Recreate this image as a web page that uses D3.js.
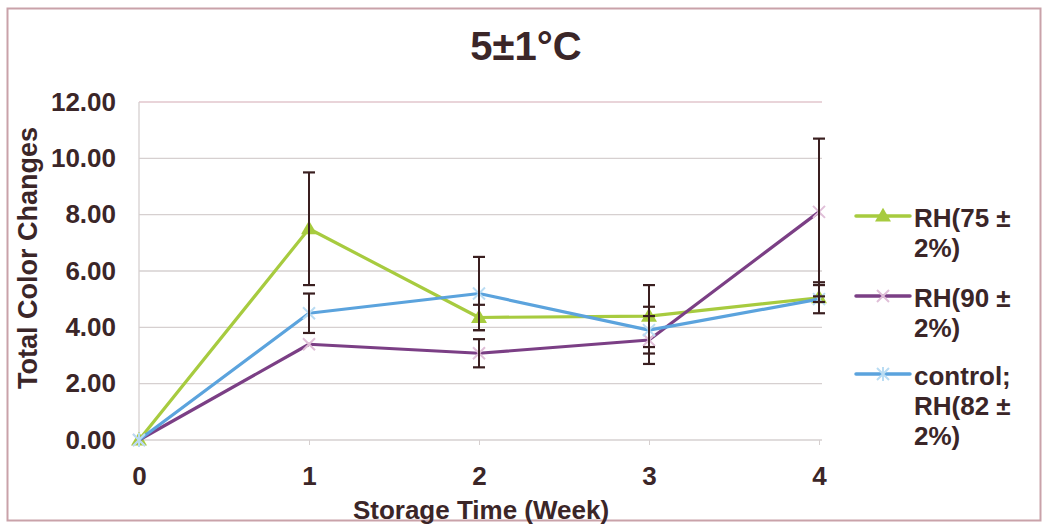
<!DOCTYPE html>
<html>
<head>
<meta charset="utf-8">
<script src="https://cdn.jsdelivr.net/npm/d3@7/dist/d3.min.js"></script>
<style>
  html, body { margin: 0; padding: 0; background: #fff; }
  svg { display: block; font-family: "Liberation Sans", Arial, sans-serif; }
</style>
</head>
<body>
<svg id="chart" width="1049" height="527"></svg>
<script>
// Storage weeks and tick labels
const weeks = [0, 1, 2, 3, 4];
const yTicks = [0, 2, 4, 6, 8, 10, 12];

// Total colour change per week for each storage condition
const rh75 = [0, 7.5, 4.35, 4.4, 5.05];
const rh90 = [0, 3.4, 3.08, 3.55, 8.1];
const control = [0, 4.5, 5.2, 3.9, 5.0];

// Error bar half-widths (standard deviation)
const rh75Err = [0, 2.0, 0.45, 1.1, 0.55];
const rh90Err = [0, 0, 0.5, 0.85, 2.6];
const controlErr = [0, 0.7, 1.3, 0.83, 0.1];

const seriesNames = [["RH(75 \u00b1", "2%)"], ["RH(90 \u00b1", "2%)"], ["control;", "RH(82 \u00b1", "2%)"]];
const seriesColors = ["#a7cb3f", "#7b3f85", "#5ba3dd"];
const markerColors = ["#a7cb3f", "#e0bfd8", "#b9dcf3"];
const markerShapes = ["triangle", "x", "star"];

const series = [
  { values: rh75, err: rh75Err },
  { values: rh90, err: rh90Err },
  { values: control, err: controlErr }
];

const svg = d3.select("#chart");
const textColor = "#3b2628";
const labelSize = 26;

// Outer chart frame
svg.append("rect")
  .attr("x", 7.5).attr("y", 8.5).attr("width", 1033).attr("height", 512)
  .attr("fill", "#fff").attr("stroke", "#c9a2a9").attr("stroke-width", 2);

const x = d3.scaleLinear().domain([0, 4]).range([139, 819]);
const y = d3.scaleLinear().domain([0, 12]).range([440, 102]);

// Horizontal gridlines
svg.append("g")
  .selectAll("line")
  .data(yTicks)
  .join("line")
  .attr("x1", 139).attr("x2", 822)
  .attr("y1", d => y(d)).attr("y2", d => y(d))
  .attr("stroke", (d, i) => i === yTicks.length - 1 ? "#e2c6cc" : "#d6d0d0")
  .attr("stroke-width", 1.3);

// Left axis line
svg.append("line")
  .attr("x1", 139).attr("x2", 139).attr("y1", y(12)).attr("y2", y(0))
  .attr("stroke", "#d6d0d0").attr("stroke-width", 1.3);

// Y axis labels
const yAxis = d3.axisLeft(y).tickValues(yTicks).tickFormat(d3.format(".2f")).tickSize(0).tickPadding(23);
const gy = svg.append("g").attr("transform", "translate(139,0)").call(yAxis);
gy.select(".domain").remove();
gy.selectAll("text")
  .attr("fill", textColor).attr("font-size", labelSize).attr("font-weight", "bold")
  .attr("font-family", "Liberation Sans, Arial, sans-serif");

// X axis with small tick marks under the zero line
const xAxis = d3.axisBottom(x).tickValues(weeks).tickFormat(d3.format("d")).tickSize(5).tickPadding(22);
const gx = svg.append("g").attr("transform", `translate(0,${y(0)})`).call(xAxis);
gx.select(".domain").remove();
gx.selectAll("line").attr("stroke", "#d6d0d0");
gx.selectAll("text")
  .attr("fill", textColor).attr("font-size", labelSize).attr("font-weight", "bold")
  .attr("font-family", "Liberation Sans, Arial, sans-serif");

// Titles
svg.append("text")
  .attr("x", 526).attr("y", 60).attr("text-anchor", "middle")
  .attr("font-size", 40).attr("font-weight", "bold").attr("fill", textColor)
  .text("5\u00b11\u00b0C");

svg.append("text")
  .attr("x", 481).attr("y", 519).attr("text-anchor", "middle")
  .attr("font-size", 26).attr("font-weight", "bold").attr("fill", textColor)
  .text("Storage Time (Week)");

svg.append("text")
  .attr("transform", "translate(37,258) rotate(-90)").attr("text-anchor", "middle")
  .attr("font-size", 27).attr("font-weight", "bold").attr("fill", textColor)
  .text("Total Color Changes");

// Marker drawing helper
function drawMarker(g, shape, cx, cy, color) {
  if (shape === "triangle") {
    g.append("path")
      .attr("d", d3.symbol().type(d3.symbolTriangle).size(110)())
      .attr("transform", `translate(${cx},${cy + 1})`)
      .attr("fill", color);
  } else if (shape === "x") {
    const r = 6;
    g.append("path")
      .attr("d", `M${cx - r},${cy - r}L${cx + r},${cy + r}M${cx - r},${cy + r}L${cx + r},${cy - r}`)
      .attr("stroke", color).attr("stroke-width", 2).attr("fill", "none");
  } else {
    const r = 6;
    g.append("path")
      .attr("d", `M${cx - r},${cy - r}L${cx + r},${cy + r}M${cx - r},${cy + r}L${cx + r},${cy - r}M${cx},${cy - r - 1}L${cx},${cy + r + 1}`)
      .attr("stroke", color).attr("stroke-width", 2).attr("fill", "none");
  }
}

const line = d3.line().x((d, i) => x(weeks[i])).y(d => y(d));

// Series lines and markers
series.forEach((s, k) => {
  svg.append("path")
    .datum(s.values)
    .attr("d", line)
    .attr("fill", "none")
    .attr("stroke", seriesColors[k])
    .attr("stroke-width", 3.2)
    .attr("stroke-linejoin", "round");
  const g = svg.append("g");
  s.values.forEach((v, i) => drawMarker(g, markerShapes[k], x(weeks[i]), y(v), markerColors[k]));
});

// Error bars
const errColor = "#3a1f20";
series.forEach((s) => {
  const g = svg.append("g");
  s.values.forEach((v, i) => {
    const e = s.err[i];
    if (!e) return;
    const cx = x(weeks[i]);
    const y1 = y(v + e), y2 = y(v - e);
    g.append("line").attr("x1", cx).attr("x2", cx).attr("y1", y1).attr("y2", y2)
      .attr("stroke", errColor).attr("stroke-width", 2);
    [y1, y2].forEach(yy => g.append("line")
      .attr("x1", cx - 6).attr("x2", cx + 6).attr("y1", yy).attr("y2", yy)
      .attr("stroke", errColor).attr("stroke-width", 2.2));
  });
});

// Legend
const legendY = [216, 296, 374];
seriesNames.forEach((lines, k) => {
  const g = svg.append("g");
  g.append("line")
    .attr("x1", 856).attr("x2", 910).attr("y1", legendY[k]).attr("y2", legendY[k])
    .attr("stroke", seriesColors[k]).attr("stroke-width", 3.5).attr("stroke-linecap", "round");
  drawMarker(g, markerShapes[k], 883, legendY[k], markerColors[k]);
  lines.forEach((t, j) => {
    g.append("text")
      .attr("x", 914).attr("y", legendY[k] + 11 + j * 30)
      .attr("font-size", labelSize).attr("font-weight", "bold").attr("fill", textColor)
      .text(t);
  });
});
</script>
</body>
</html>
